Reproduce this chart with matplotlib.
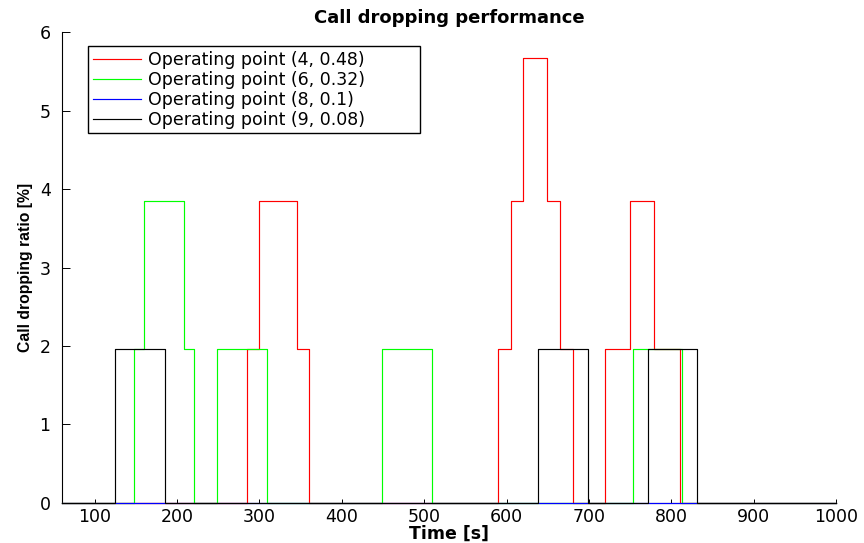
import numpy as np
import matplotlib
matplotlib.use('Agg')
import matplotlib.pyplot as plt

# step change times [s] and call dropping ratio [%] for each operating point
red_t = [60, 285, 300, 345, 360, 589, 605, 620, 649, 665, 680, 719, 750, 779, 810, 1000]
red_v = [0, 1.96, 3.85, 1.96, 0, 1.96, 3.85, 5.67, 3.85, 1.96, 0, 1.96, 3.85, 1.96, 0, 0]

green_t = [60, 148, 160, 208, 220, 249, 309, 449, 509, 753, 813, 1000]
green_v = [0, 1.96, 3.85, 1.96, 0, 1.96, 0, 1.96, 0, 1.96, 0, 0]

blue_t = [60, 1000]
blue_v = [0, 0]

black_t = [60, 125, 185, 638, 699, 771, 831, 1000]
black_v = [0, 1.96, 0, 1.96, 0, 1.96, 0, 0]

labels = ['Operating point (4, 0.48)', 'Operating point (6, 0.32)',
          'Operating point (8, 0.1)', 'Operating point (9, 0.08)']
colors = ['#ff0000', '#00ff00', '#0000ff', '#000000']

xticks = np.arange(100, 1001, 100)
yticks = np.arange(0, 7, 1)

plt.rcParams['font.family'] = 'DejaVu Sans'

fig = plt.figure(figsize=(8.64, 5.43), dpi=100)
ax = fig.add_axes([0.0714, 0.0742, 0.8965, 0.8663])

series = [(red_t, red_v), (green_t, green_v), (blue_t, blue_v), (black_t, black_v)]
for (t, v), lab, c in zip(series, labels, colors):
    ax.step(t, v, where='post', color=c, lw=0.85, label=lab, clip_on=False, zorder=3)

ax.set_xlim(60, 1000)
ax.set_ylim(0, 6)
ax.set_xticks(xticks)
ax.set_yticks(yticks)
ax.spines['top'].set_visible(False)
ax.spines['right'].set_visible(False)
for s in ['left', 'bottom']:
    ax.spines[s].set_linewidth(0.8)
    ax.spines[s].set_color('black')
ax.tick_params(axis='x', direction='in', length=3, width=0.7, pad=4, labelsize=12.5)
ax.tick_params(axis='y', direction='in', length=5.5, width=0.7, pad=8, labelsize=12.5)

ax.set_title('Call dropping performance', fontsize=13, fontweight='bold', pad=7)
ax.set_xlabel('Time [s]', fontsize=12.5, fontweight='bold')
ax.xaxis.set_label_coords(0.5, -0.047)
ax.set_ylabel('Call dropping ratio [%]', fontsize=11.3, fontweight='bold',
              family='Liberation Sans')
ax.yaxis.set_label_coords(-0.037, 0.5)

leg = ax.legend(loc='upper left', bbox_to_anchor=(0.0345, 0.960, 0.428, 0.01),
                mode='expand', borderaxespad=0, fontsize=12.5, labelspacing=0.12,
                borderpad=0.25, handlelength=2.8, handletextpad=0.4,
                fancybox=False, framealpha=1)
leg.get_frame().set_edgecolor('black')
leg.get_frame().set_linewidth(1.0)
leg.set_zorder(5)

fig.savefig('out.png', dpi=100)
